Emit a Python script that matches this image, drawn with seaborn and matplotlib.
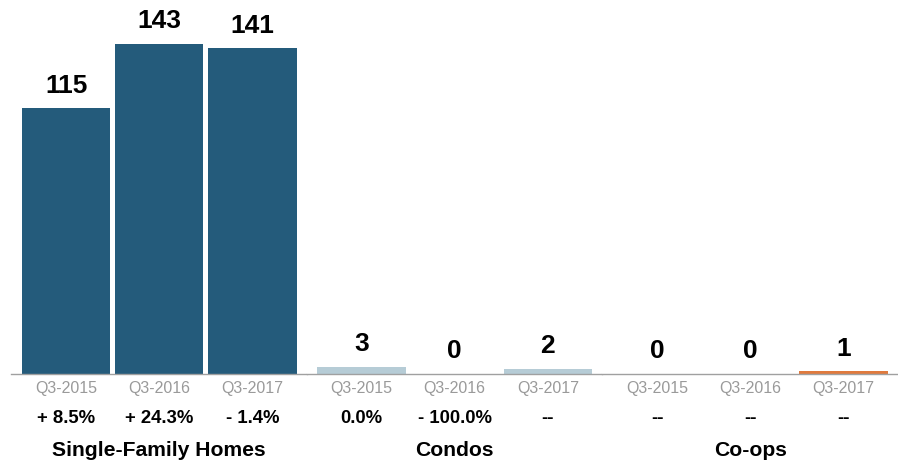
import pandas as pd
from matplotlib import pyplot as plt
import seaborn as sns

# values
groups = ['Single-Family Homes', 'Condos', 'Co-ops']
periods = ['Q3-2015', 'Q3-2016', 'Q3-2017']
sfh_sales = [115, 143, 141]
condo_sales = [3, 0, 2]
coop_sales = [0, 0, 1]
sfh_change = ['+ 8.5%', '+ 24.3%', '- 1.4%']
condo_change = ['0.0%', '- 100.0%', '--']
coop_change = ['--', '--', '--']

colors = ['#245b7b', '#b6ccd6', '#e07a3e']


def build_frame():
    """ Put every group into one long table """
    rows = []
    for group, sales, change in zip(groups,
                                    [sfh_sales, condo_sales, coop_sales],
                                    [sfh_change, condo_change, coop_change]):
        for period, value, pct in zip(periods, sales, change):
            rows.append({'group': group, 'period': period,
                         'sales': value, 'change': pct})
    return pd.DataFrame(rows)


def draw(df):
    sns.set_style('white')
    plt.rcParams['font.family'] = ['Liberation Sans', 'DejaVu Sans']

    fig, axes = plt.subplots(1, 3, figsize=(8.98, 4.64), dpi=100, sharey=True)
    fig.subplots_adjust(left=0.0128, right=1.0, bottom=0.1925, top=1.0,
                        wspace=0)

    for ax, group, color in zip(axes, groups, colors):
        sub = df[df['group'] == group]
        sns.barplot(data=sub, x='period', y='sales', color=color,
                    saturation=1, width=0.948, linewidth=0, ax=ax)

        # value labels above the bars
        for i, value in enumerate(sub['sales']):
            ax.annotate(str(value), xy=(i, value), xytext=(0, 12),
                        textcoords='offset points', ha='center',
                        va='baseline', fontsize=19, fontweight='bold',
                        color='black')

        # percent change row
        for i, pct in enumerate(sub['change']):
            ax.annotate(pct, xy=(i, 0), xytext=(0, -35),
                        textcoords='offset points', ha='center',
                        va='baseline', fontsize=13.3, fontweight='bold',
                        color='black', annotation_clip=False)

        # group name
        ax.annotate(group, xy=(1, 0), xytext=(0, -58.3),
                    textcoords='offset points', ha='center', va='baseline',
                    fontsize=15.2, fontweight='bold', color='black',
                    annotation_clip=False)

        ax.set_xlim(-0.586, 2.586)
        ax.set_ylim(0, 162.4)
        ax.set_xlabel('')
        ax.set_ylabel('')
        ax.set_yticks([])
        for side in ['top', 'right', 'left']:
            ax.spines[side].set_visible(False)
        ax.spines['bottom'].set_color('#a0a0a0')
        ax.spines['bottom'].set_linewidth(1)
        ax.tick_params(axis='x', which='major', length=0, pad=4.5,
                       labelsize=11.5, labelcolor='#9a9a9a')
        ax.set_xticks([-0.586], minor=True)
        ax.tick_params(axis='x', which='minor', length=6, width=1,
                       color='#a0a0a0')

    fig.savefig('out.png', dpi=100)


def main():
    df = build_frame()
    draw(df)


if __name__ == "__main__":
    main()
